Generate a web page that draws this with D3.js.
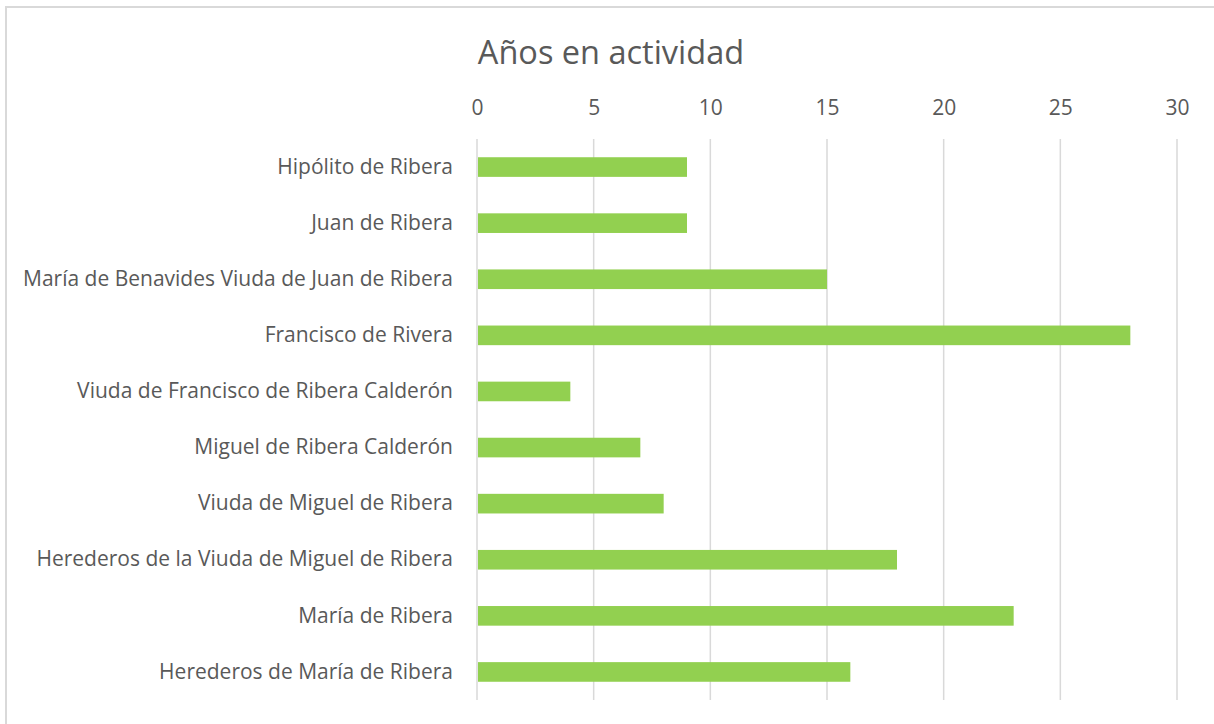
<!DOCTYPE html>
<html>
<head>
<meta charset="utf-8">
<script src="https://cdn.jsdelivr.net/npm/d3@7"></script>
<style>
  body { margin: 0; background: #fff; }
  text { font-family: "Open Sans", "Noto Sans", sans-serif; fill: #595959; }
</style>
</head>
<body>
<script>
const names = [
  'Hipólito de Ribera',
  'Juan de Ribera',
  'María de Benavides Viuda de Juan de Ribera',
  'Francisco de Rivera',
  'Viuda de Francisco de Ribera Calderón',
  'Miguel de Ribera Calderón',
  'Viuda de Miguel de Ribera',
  'Herederos de la Viuda de Miguel de Ribera',
  'María de Ribera',
  'Herederos de María de Ribera'
]
const years = [9, 9, 15, 28, 4, 7, 8, 18, 23, 16]
const ticks = [0, 5, 10, 15, 20, 25, 30]

const width = 1214
const height = 724
const margin = {top: 139, right: 36, bottom: 24, left: 477}

const svg = d3.select('body').append('svg')
  .attr('width', width)
  .attr('height', height)

// chart frame (cropped on the right and bottom)
svg.append('path')
  .attr('d', `M6,${height} V7 H${width}`)
  .attr('fill', 'none')
  .attr('stroke', '#d9d9d9')
  .attr('stroke-width', 2)

svg.append('text')
  .attr('x', 611)
  .attr('y', 64)
  .attr('text-anchor', 'middle')
  .style('font-size', '32.5px')
  .text('Años en actividad')

const xScale = d3.scaleLinear()
  .domain([0, 30])
  .range([margin.left, width - margin.right - 1])

const yScale = d3.scaleBand()
  .domain(names)
  .range([margin.top, height - margin.bottom])
  .paddingInner(0.65)
  .paddingOuter(0.325)

// gridlines
svg.append('g')
  .selectAll('line')
  .data(ticks)
  .enter()
  .append('line')
  .attr('x1', d => xScale(d))
  .attr('x2', d => xScale(d))
  .attr('y1', margin.top)
  .attr('y2', height - margin.bottom)
  .attr('stroke', '#d9d9d9')
  .attr('stroke-width', 1.5)

const xAxis = d3.axisTop(xScale)
  .tickValues(ticks)
  .tickSize(0)
  .tickPadding(0)

svg.append('g')
  .attr('transform', 'translate(0,115)')
  .call(xAxis)
  .call(g => g.select('.domain').remove())
  .selectAll('text')
  .style('font-size', '21px')
  .attr('fill', '#595959')

svg.append('g')
  .selectAll('rect')
  .data(years)
  .enter()
  .append('rect')
  .attr('x', xScale(0) + 1)
  .attr('y', (d, i) => yScale(names[i]))
  .attr('width', d => xScale(d) - xScale(0) - 1)
  .attr('height', yScale.bandwidth())
  .attr('fill', '#92d050')

const yAxis = d3.axisLeft(yScale)
  .tickSize(0)
  .tickPadding(24)

svg.append('g')
  .attr('transform', `translate(${margin.left},0)`)
  .call(yAxis)
  .call(g => g.select('.domain').remove())
  .selectAll('text')
  .style('font-size', '21px')
  .attr('fill', '#595959')
</script>
</body>
</html>
